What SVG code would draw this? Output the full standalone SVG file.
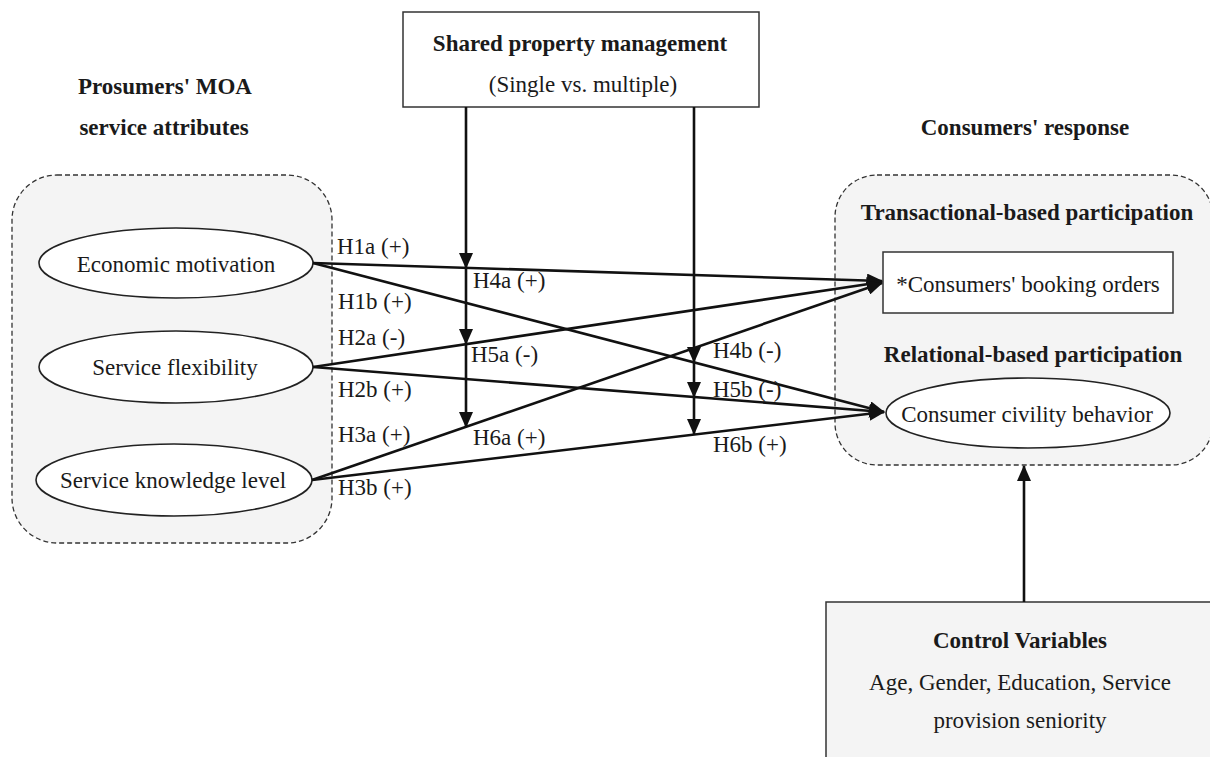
<svg xmlns="http://www.w3.org/2000/svg" width="1210" height="757" viewBox="0 0 1210 757">
<style>
.t{font-family:"Liberation Serif","Times New Roman",serif;font-size:23px;fill:#1a1a1a}
.b{font-weight:bold}
.m{text-anchor:middle}
.dash{fill:#f4f4f4;stroke:#333;stroke-width:1.3;stroke-dasharray:5 3}
.box{stroke:#333;stroke-width:1.5}
.ell{fill:#fff;stroke:#222;stroke-width:1.6}
.c{stroke:#111;stroke-width:2.6;fill:none;marker-end:url(#ah)}
</style>
<defs>
<marker id="ah" viewBox="0 0 16 14" refX="15" refY="7" markerWidth="16" markerHeight="14" markerUnits="userSpaceOnUse" orient="auto">
<path d="M0,0 L16,7 L0,14 z" fill="#111"/>
</marker>
</defs>
<rect width="1210" height="757" fill="#fff"/>

<g id="prosumers">
<text class="t b m" x="165" y="94">Prosumers' MOA</text>
<text class="t b m" x="164" y="135">service attributes</text>
<rect class="dash" x="12" y="175" width="320" height="368" rx="45"/>
</g>
<g id="economic">
<ellipse class="ell" cx="176" cy="263" rx="137" ry="35"/>
<text class="t m" x="176" y="272">Economic motivation</text>
</g>
<g id="flexibility">
<ellipse class="ell" cx="176" cy="367" rx="137" ry="36"/>
<text class="t m" x="175" y="375">Service flexibility</text>
</g>
<g id="knowledge">
<ellipse class="ell" cx="174" cy="480" rx="138" ry="36"/>
<text class="t m" x="173" y="488">Service knowledge level</text>
</g>

<g id="shared">
<rect class="box" x="403" y="12" width="356" height="95" fill="#fff"/>
<text class="t b m" x="580" y="51">Shared property management</text>
<text class="t m" x="583" y="92">(Single vs. multiple)</text>
</g>

<g id="consumers">
<text class="t b m" x="1025" y="135">Consumers' response</text>
<rect class="dash" x="835" y="175" width="378" height="290" rx="42"/>
<text class="t b m" x="1027" y="220">Transactional-based participation</text>
<text class="t b m" x="1033" y="362">Relational-based participation</text>
</g>
<g id="booking">
<rect class="box" x="883" y="252" width="290" height="61" fill="#fff"/>
<text class="t m" x="1028" y="292">*Consumers' booking orders</text>
</g>
<g id="civility">
<ellipse class="ell" cx="1028" cy="413" rx="142" ry="35"/>
<text class="t m" x="1027" y="422">Consumer civility behavior</text>
</g>

<g id="control">
<rect class="box" x="826" y="602" width="420" height="180" fill="#f4f4f4"/>
<text class="t b m" x="1020" y="648">Control Variables</text>
<text class="t m" x="1020" y="690">Age, Gender, Education, Service</text>
<text class="t m" x="1020" y="728">provision seniority</text>
</g>

<g id="connectors">
<line class="c" x1="313" y1="263" x2="882" y2="281"/>
<line class="c" x1="313" y1="263" x2="884" y2="412"/>
<line class="c" x1="313" y1="367" x2="882" y2="282"/>
<line class="c" x1="313" y1="367" x2="884" y2="412"/>
<line class="c" x1="312" y1="480" x2="882" y2="283"/>
<line class="c" x1="312" y1="480" x2="884" y2="412"/>
<line class="c" x1="466" y1="107" x2="466" y2="268"/>
<line class="c" x1="466" y1="268" x2="466" y2="344"/>
<line class="c" x1="466" y1="344" x2="466" y2="427"/>
<line class="c" x1="694" y1="107" x2="694" y2="362"/>
<line class="c" x1="694" y1="362" x2="694" y2="397"/>
<line class="c" x1="694" y1="397" x2="694" y2="434"/>
<line class="c" x1="1024" y1="602" x2="1024" y2="466"/>
</g>

<g id="labels">
<text class="t" x="337" y="254">H1a (+)</text>
<text class="t" x="338" y="309">H1b (+)</text>
<text class="t" x="338" y="345">H2a (-)</text>
<text class="t" x="338" y="397">H2b (+)</text>
<text class="t" x="338" y="442">H3a (+)</text>
<text class="t" x="338" y="495">H3b (+)</text>
<text class="t" x="473" y="288">H4a (+)</text>
<text class="t" x="471" y="362">H5a (-)</text>
<text class="t" x="473" y="445">H6a (+)</text>
<text class="t" x="713" y="358">H4b (-)</text>
<text class="t" x="713" y="397">H5b (-)</text>
<text class="t" x="713" y="452">H6b (+)</text>
</g>
</svg>
